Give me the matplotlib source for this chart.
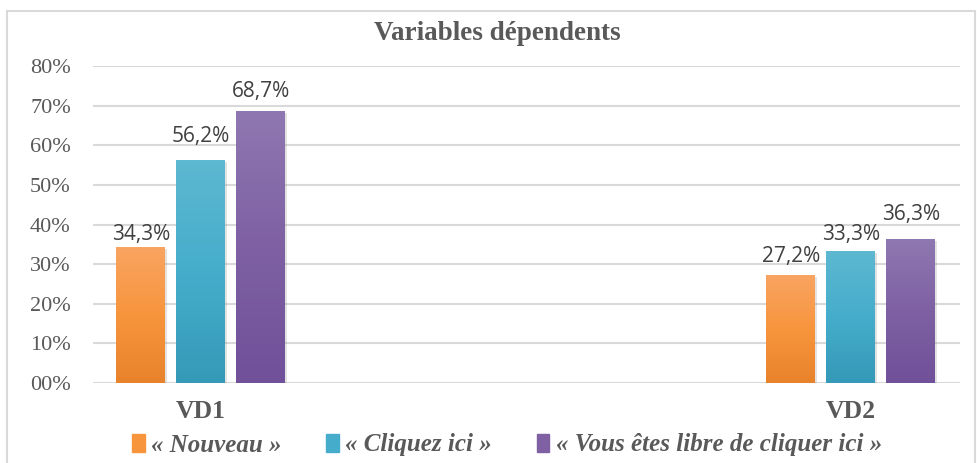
import numpy as np
import matplotlib
matplotlib.use("Agg")
import matplotlib.pyplot as plt
import matplotlib.patheffects as pe
from matplotlib.patches import Rectangle
from matplotlib.colors import LinearSegmentedColormap

# données
categories = ["VD1", "VD2"]
series = ["« Nouveau »", "« Cliquez ici »", "« Vous êtes libre de cliquer ici »"]
nouveau = [34.3, 27.2]
cliquez = [56.2, 33.3]
libre = [68.7, 36.3]
yticks = [0, 10, 20, 30, 40, 50, 60, 70, 80]

# écart étiquette / haut de barre (en points de %), étiquettes déplacées à la main dans l'original
label_gap = [[1.8, 3.3], [4.5, 2.8], [3.5, 4.8]]

# couleurs (bas, haut) pour le dégradé
grads = [("#F9A461", "#E8832C"), ("#5DB8D1", "#3599B8"), ("#8F78B1", "#70519A")]
mids = ["#F7953D", "#45ADCB", "#7E60A3"]
gray = "#595959"

W, H = 978, 463
fig = plt.figure(figsize=(W / 100, H / 100), dpi=100)
ax = fig.add_axes([93 / W, 1 - 383 / H, (960 - 93) / W, (383 - 66) / H])

x = np.arange(len(categories))
bw = 49 / 650
step = 60 / 650
bars = []
for i, vals in enumerate([nouveau, cliquez, libre]):
    b = ax.bar(x + (i - 1) * step, vals, width=bw, color=mids[i], zorder=3,
               path_effects=[pe.SimplePatchShadow(offset=(1.5, -1.5), shadow_rgbFace="#909090", alpha=0.25),
                             pe.Normal()])
    bars.append(b)
    for j, (r, v) in enumerate(zip(b, vals)):
        ax.text(r.get_x() + r.get_width() / 2, v + label_gap[i][j], f"{v:.1f}%".replace(".", ","),
                ha="center", va="baseline", fontsize=15, family="Open Sans", color="#404040")

# dégradé vertical dans chaque barre
g = np.linspace(1, 0, 100).reshape(-1, 1)
for i, b in enumerate(bars):
    cmap = LinearSegmentedColormap.from_list("g", [grads[i][1], mids[i], grads[i][0]])
    for r in b:
        im = ax.imshow(g, cmap=cmap, extent=[r.get_x(), r.get_x() + r.get_width(), 0, r.get_height()],
                       aspect="auto", zorder=4, origin="upper", vmin=0, vmax=1)
        im.set_clip_path(r)

ax.set_xlim(-0.166, 1.168)
ax.set_ylim(0, 80)
ax.set_yticks(yticks)
ax.set_yticklabels([f"{t:02d}%" for t in yticks], family="Liberation Serif", fontsize=16, color=gray)
ax.set_xticks(x)
ax.set_xticklabels(categories, family="Liberation Serif", fontsize=18.5, fontweight="bold", color=gray)
ax.tick_params(axis="y", length=0, pad=16)
ax.tick_params(axis="x", length=0, pad=12)
ax.grid(axis="y", color="#D9D9D9", linewidth=1.5, zorder=0)
for s in ax.spines.values():
    s.set_visible(False)

fig.text(497 / W, 1 - 33 / H, "Variables dépendents", ha="center", va="center",
         family="Liberation Serif", fontsize=19.5, fontweight="bold", color=gray)

handles = [Rectangle((0, 0), 1, 1, color=c) for c in mids]
leg = fig.legend(handles, series, loc="center", bbox_to_anchor=(507 / W, 1 - 445 / H), ncol=3,
                 frameon=False, handlelength=0.5, handleheight=0.75, handletextpad=0.25,
                 columnspacing=1.8, borderpad=0, prop={"family": "Liberation Serif", "size": 18,
                                                      "weight": "bold", "style": "italic"})
for t in leg.get_texts():
    t.set_color(gray)

# cadre
fig.patches.append(Rectangle((7 / W, -0.05), (975 - 7) / W, 1.05 - 11 / H, transform=fig.transFigure,
                             fill=False, edgecolor="#D9D9D9", linewidth=1.5))

fig.savefig("out.png", dpi=100)
